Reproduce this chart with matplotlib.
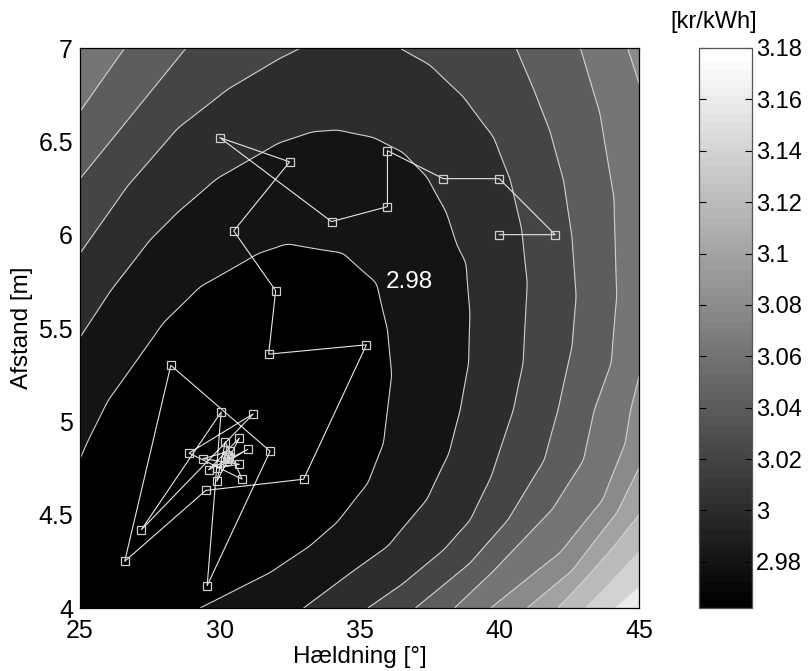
import numpy as np
import matplotlib
matplotlib.use("Agg")
import matplotlib.pyplot as plt
from matplotlib.colors import ListedColormap, Normalize
from matplotlib.cm import ScalarMappable

plt.rcParams['font.family'] = ['Liberation Sans', 'DejaVu Sans']

# ---- contour traces: (x = slope [deg], y = distance [m]) ----
# each list is one continuous piece of a contour line inside the plot frame
c298_x = [25.0, 25.3, 26.0, 28.0, 29.3, 31.4, 32.4, 34.4, 35.6, 36.0, 36.15, 36.0, 35.85, 35.3, 34.2, 33.2, 31.8, 29.3]
c298_y = [4.80, 4.90, 5.11, 5.53, 5.72, 5.90, 5.95, 5.90, 5.74, 5.49, 5.25, 5.06, 4.88, 4.67, 4.46, 4.33, 4.19, 4.00]
c300_x = [25.0, 26.1, 27.5, 28.5, 29.9, 32.1, 33.3, 34.2, 35.5, 36.55, 37.4, 38.1, 38.5, 38.8, 38.95, 38.9, 38.6, 38.2, 37.4, 36.0, 34.7, 33.0]
c300_y = [5.45, 5.70, 5.97, 6.12, 6.30, 6.49, 6.55, 6.56, 6.52, 6.44, 6.31, 6.12, 5.94, 5.85, 5.58, 5.31, 5.06, 4.83, 4.58, 4.33, 4.19, 4.00]
c302a_x = [25.0, 26.7, 28.5, 30.3, 32.1, 32.9]
c302a_y = [5.90, 6.26, 6.57, 6.78, 6.94, 7.00]
c302b_x = [36.55, 37.5, 38.7, 39.8, 40.4, 40.8, 41.0, 40.85, 40.5, 39.7, 38.95, 38.0, 36.55, 35.3]
c302b_y = [6.99, 6.91, 6.74, 6.52, 6.29, 6.03, 5.74, 5.31, 5.06, 4.70, 4.47, 4.31, 4.13, 4.00]
c304a_x = [25.0, 26.9, 28.8]
c304a_y = [6.30, 6.65, 7.00]
c304b_x = [40.6, 41.2, 41.8, 42.3, 42.6, 42.75, 42.6, 42.1, 41.6, 40.3, 38.95, 37.9, 37.0]
c304b_y = [7.00, 6.79, 6.56, 6.29, 5.99, 5.67, 5.40, 5.06, 4.79, 4.47, 4.24, 4.11, 4.00]
c306a_x = [25.0, 26.6]
c306a_y = [6.66, 7.00]
c306b_x = [42.9, 43.6, 44.1, 44.2, 44.0, 43.4, 43.0, 41.9, 39.8, 38.4]
c306b_y = [7.00, 6.65, 6.20, 5.67, 5.31, 5.06, 4.79, 4.53, 4.20, 4.00]
c308a_x = [44.6, 45.0]
c308a_y = [7.00, 6.81]
c308b_x = [45.0, 44.7, 44.5, 43.7, 42.2, 39.7]
c308b_y = [5.24, 5.06, 4.88, 4.58, 4.30, 4.00]
c310_x = [45.0, 44.2, 42.6, 41.0]
c310_y = [4.75, 4.51, 4.20, 4.00]
c312_x = [45.0, 44.1, 43.1, 42.1]
c312_y = [4.50, 4.33, 4.16, 4.00]
c314_x = [45.0, 44.0, 43.1]
c314_y = [4.30, 4.14, 4.00]
c316_x = [45.0, 44.5, 44.1]
c316_y = [4.12, 4.05, 4.00]

contour_levels = [2.98, 3.00, 3.02, 3.04, 3.06, 3.08, 3.10, 3.12, 3.14, 3.16]
contour_pieces = [
    (2.98, c298_x, c298_y), (3.00, c300_x, c300_y),
    (3.02, c302a_x, c302a_y), (3.02, c302b_x, c302b_y),
    (3.04, c304a_x, c304a_y), (3.04, c304b_x, c304b_y),
    (3.06, c306a_x, c306a_y), (3.06, c306b_x, c306b_y),
    (3.08, c308a_x, c308a_y), (3.08, c308b_x, c308b_y),
    (3.10, c310_x, c310_y), (3.12, c312_x, c312_y),
    (3.14, c314_x, c314_y), (3.16, c316_x, c316_y),
]
# extreme values (colour bar limits) and where they occur
z_min, z_min_x, z_min_y = 2.962, 30.3, 4.81
z_max, z_max_x, z_max_y = 3.178, 45.0, 4.0
# a few shades read inside bands (corners, black basin, top gap of 3.02)
extra_x = [25.0, 45.0, 25.0, 27.0, 33.0, 34.7]
extra_y = [7.0, 7.0, 4.0, 4.5, 5.3, 7.0]
extra_z = [3.072, 3.088, 2.967, 2.966, 2.968, 3.016]

# ---- optimisation path (square markers) ----
path_x = [40.0, 42.0, 40.0, 38.0, 36.0, 36.0, 34.0, 30.0, 32.5, 30.5, 32.0, 31.75, 35.25, 33.0,
          29.5, 26.6, 28.25, 31.8, 29.55, 30.05, 27.2, 31.2, 28.9, 30.8, 30.2, 29.9, 30.7, 29.6,
          31.0, 29.9, 30.7, 29.4, 30.35, 30.25, 30.3, 30.28, 30.32, 30.3]
path_y = [6.00, 6.00, 6.30, 6.30, 6.45, 6.15, 6.07, 6.52, 6.39, 6.02, 5.70, 5.36, 5.41, 4.69,
          4.63, 4.25, 5.30, 4.84, 4.12, 5.05, 4.42, 5.04, 4.83, 4.69, 4.89, 4.68, 4.91, 4.74,
          4.85, 4.75, 4.77, 4.80, 4.84, 4.79, 4.82, 4.80, 4.81, 4.81]

x_ticks = [25, 30, 35, 40, 45]
y_ticks = [4, 4.5, 5, 5.5, 6, 6.5, 7]
cb_ticks = [2.98, 3.00, 3.02, 3.04, 3.06, 3.08, 3.10, 3.12, 3.14, 3.16, 3.18]

def fmt(v):
    return ('%.2f' % v).rstrip('0').rstrip('.')

def norm_uv(x, y):
    return (np.asarray(x, float) - 25.0) / 20.0, (np.asarray(y, float) - 4.0) / 3.0

# ---- thin-plate-spline surface pinned along the traced contour pieces ----
pu_l, pv_l, pz_l = [], [], []
step = 0.025
for lvl, tx, ty in contour_pieces:
    u, v = norm_uv(tx, ty)
    for k in range(len(u) - 1):
        d = np.hypot(u[k + 1] - u[k], v[k + 1] - v[k])
        m = max(1, int(np.ceil(d / step)))
        t = np.arange(m) / m
        pu_l += list(u[k] + t * (u[k + 1] - u[k]))
        pv_l += list(v[k] + t * (v[k + 1] - v[k]))
        pz_l += [lvl] * m
    pu_l.append(u[-1]); pv_l.append(v[-1]); pz_l.append(lvl)
eu, ev = norm_uv([z_min_x, z_max_x] + extra_x, [z_min_y, z_max_y] + extra_y)
pu = np.concatenate([pu_l, eu])
pv = np.concatenate([pv_l, ev])
pz = np.concatenate([pz_l, [z_min, z_max] + extra_z])

def tps_kernel(r):
    with np.errstate(divide='ignore', invalid='ignore'):
        k = r ** 2 * np.log(r)
    return np.where(r > 0, k, 0.0)

n = len(pu)
R = np.hypot(pu[:, None] - pu[None, :], pv[:, None] - pv[None, :])
K = tps_kernel(R) + 1e-4 * np.eye(n)
P = np.column_stack([np.ones(n), pu, pv])
M = np.zeros((n + 3, n + 3))
M[:n, :n] = K
M[:n, n:] = P
M[n:, :n] = P.T
sol = np.linalg.solve(M, np.concatenate([pz, np.zeros(3)]))
w, a = sol[:n], sol[n:]

gx = np.linspace(25, 45, 201)
gy = np.linspace(4, 7, 151)
GX, GY = np.meshgrid(gx, gy)
gu, gv = norm_uv(GX.ravel(), GY.ravel())
vals = np.empty(gu.size)
for s in range(0, gu.size, 4000):
    rr = np.hypot(gu[s:s + 4000, None] - pu[None, :], gv[s:s + 4000, None] - pv[None, :])
    vals[s:s + 4000] = tps_kernel(rr) @ w
GZ = (vals + a[0] + a[1] * gu + a[2] * gv).reshape(GX.shape)

# ---- colours: 64-step gray map like the original ----
ncol = 64
gray64 = ListedColormap(np.repeat(np.linspace(0, 1, ncol)[:, None], 3, axis=1))
norm = Normalize(vmin=z_min, vmax=z_max)

def band_color(lvl):
    idx = int(np.clip(np.floor((lvl - z_min) / (z_max - z_min) * ncol), 0, ncol - 1))
    return gray64(idx)

fill_levels = [min(GZ.min(), z_min) - 1] + contour_levels + [max(GZ.max(), z_max) + 1]
fill_colors = [band_color(z_min)] + [band_color(l) for l in contour_levels]

fig = plt.figure(figsize=(8.1, 6.71), dpi=100)
ax = fig.add_axes([80 / 810, 63 / 671, 559 / 810, 560 / 671])
ax.contourf(GX, GY, GZ, levels=fill_levels, colors=fill_colors)
ax.contour(GX, GY, GZ, levels=contour_levels, colors='#d0d0d0', linewidths=0.8)

ax.plot(path_x, path_y, '-', color='#e6e6e6', linewidth=0.8, zorder=3)
ax.plot(path_x, path_y, 's', markerfacecolor='none', markeredgecolor='#cfcfcf',
        markersize=6, markeredgewidth=0.9, zorder=4)

ax.text(36.8, 5.745, '2.98', color='white', fontsize=17.5, ha='center', va='center')

ax.set_xlim(25, 45)
ax.set_ylim(4, 7)
ax.set_xticks(x_ticks)
ax.set_xticklabels([fmt(v) for v in x_ticks])
ax.set_yticks(y_ticks)
ax.set_yticklabels([fmt(v) for v in y_ticks])
ax.tick_params(length=0, labelsize=18)
ax.tick_params(axis='x', pad=8)
ax.tick_params(axis='y', pad=5)
ax.set_xlabel('Hældning [°]', fontsize=17.5, labelpad=2)
ax.set_ylabel('Afstand [m]', fontsize=17.5, labelpad=4)
for s in ax.spines.values():
    s.set_linewidth(0.9)

cax = fig.add_axes([699 / 810, 63 / 671, 53 / 810, 560 / 671])
sm = ScalarMappable(norm=norm, cmap=gray64)
cb = fig.colorbar(sm, cax=cax)
cb.set_ticks(cb_ticks)
cb.set_ticklabels([fmt(v) for v in cb_ticks])
cax.tick_params(direction='in', left=True, right=True, length=5, width=0.8,
                labelsize=17, pad=3)
cb.outline.set_edgecolor('#555555')
cb.outline.set_linewidth(0.9)
fig.text(714 / 810, 1 - 22 / 671, '[kr/kWh]', fontsize=17, ha='center', va='center')

fig.savefig('out.png', dpi=100)
